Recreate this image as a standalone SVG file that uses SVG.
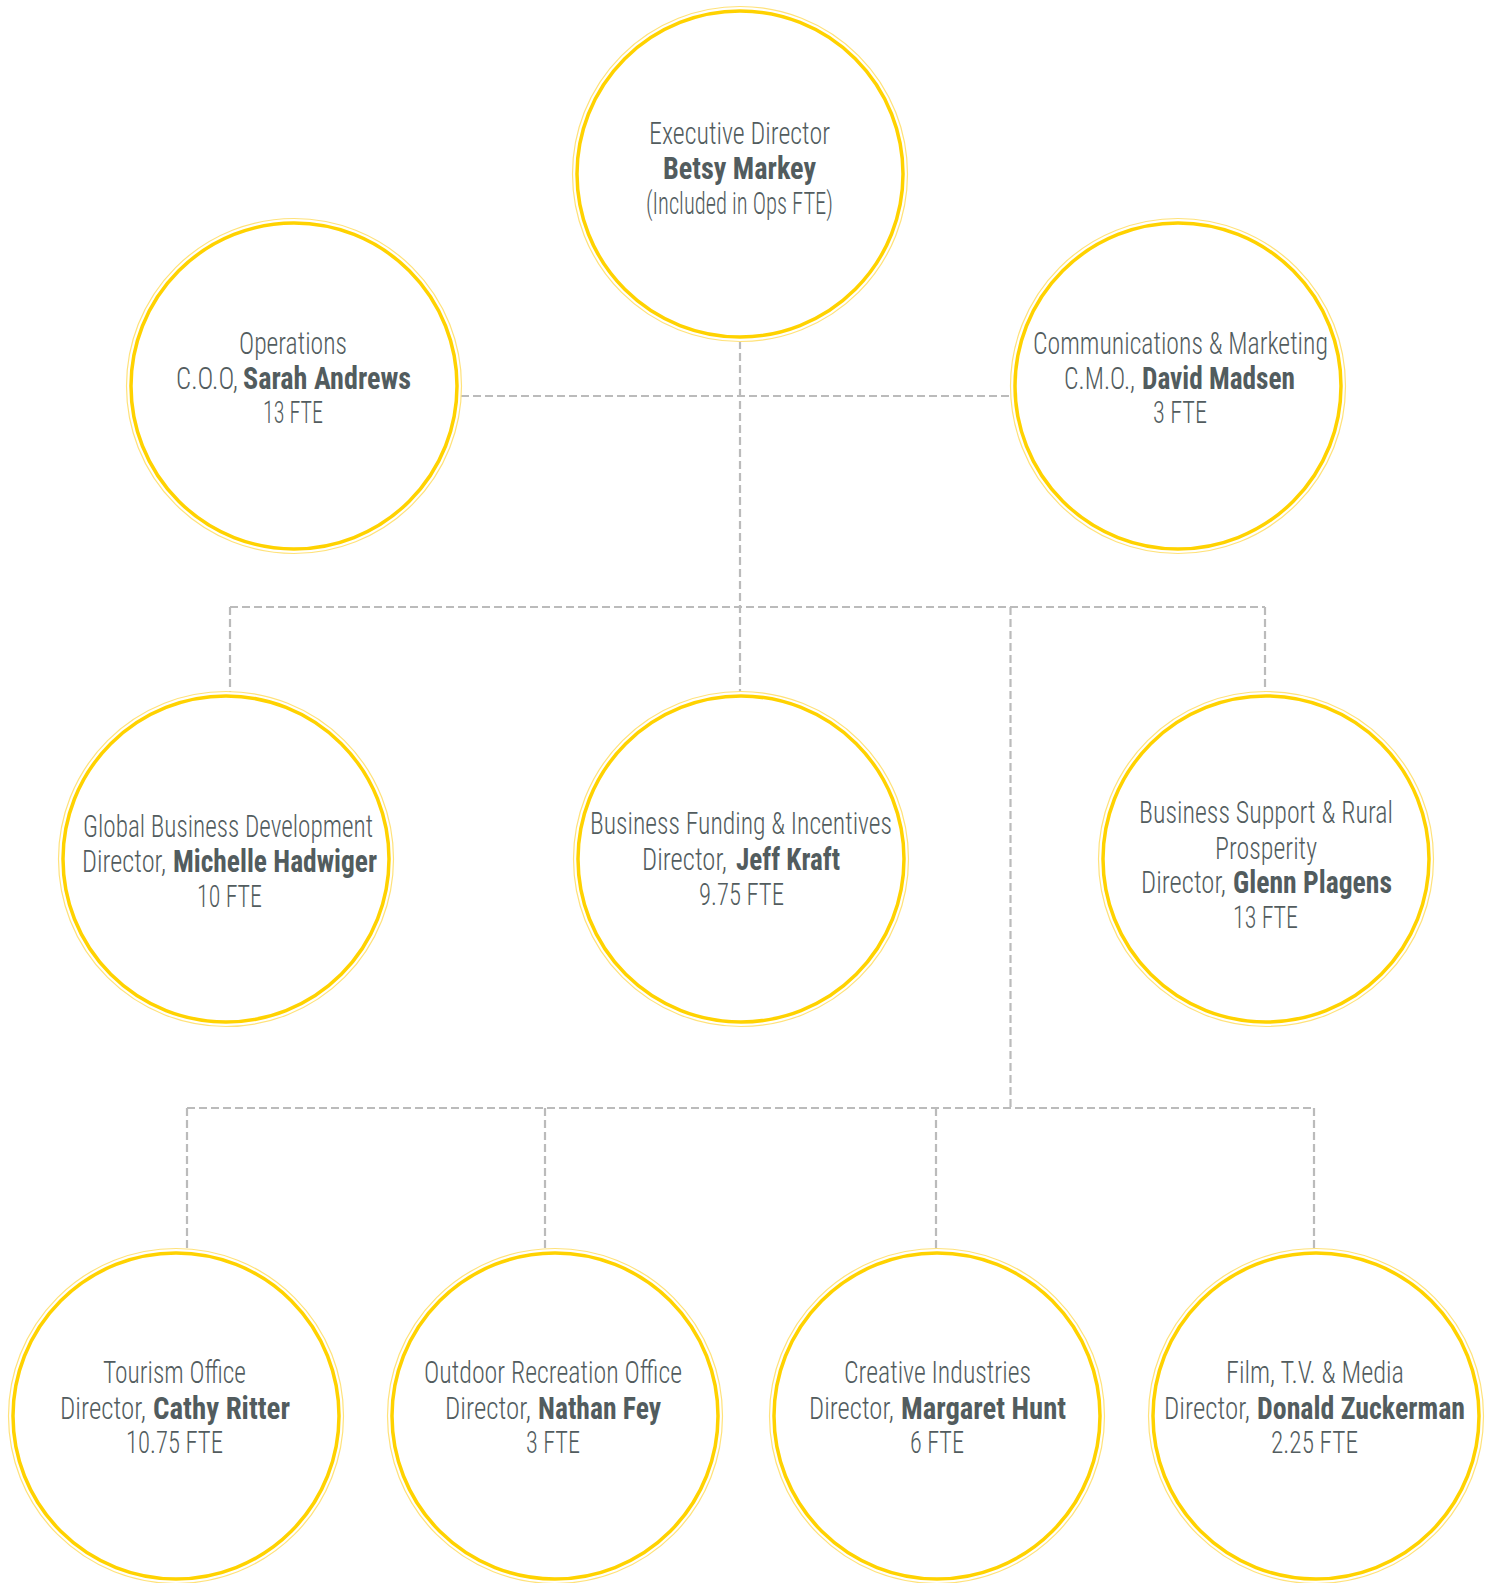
<svg xmlns="http://www.w3.org/2000/svg" width="1493" height="1583" viewBox="0 0 1493 1583">
<style>
.ring{fill:#ffffff;stroke:#FFD200;stroke-width:3.5}
.halo{fill:none;stroke:#FFE27A;stroke-width:1.2}
.t{font-family:Roboto,"Liberation Sans",sans-serif;font-weight:300;font-size:31px;font-stretch:75%;fill:#525c5e}
.b{font-weight:700}
.c{fill:none;stroke:#bbbbbb;stroke-width:2.2;stroke-dasharray:8 4}
</style>
<rect width="1493" height="1583" fill="#ffffff"/>
<g id="connectors">
<path class="c" d="M461 396H1011"/>
<path class="c" d="M740 341V692"/>
<path class="c" d="M230 607H1265"/>
<path class="c" d="M230 607V692"/>
<path class="c" d="M1265 607V692"/>
<path class="c" d="M1010.5 607V1108"/>
<path class="c" d="M187 1108H1314"/>
<path class="c" d="M187 1108V1249"/>
<path class="c" d="M545 1108V1249"/>
<path class="c" d="M936 1108V1249"/>
<path class="c" d="M1314 1108V1249"/>
</g>
<g id="node-executive">
<circle class="halo" cx="740" cy="174" r="167.5"/>
<circle class="ring" cx="740" cy="174" r="163"/>
<text class="t" x="649" y="144" textLength="181" lengthAdjust="spacingAndGlyphs">Executive Director</text>
<text class="t b" x="663" y="179" textLength="153" lengthAdjust="spacingAndGlyphs">Betsy Markey</text>
<text class="t" x="646" y="214" textLength="187" lengthAdjust="spacingAndGlyphs">(Included in Ops FTE)</text>
</g>
<g id="node-operations">
<circle class="halo" cx="294" cy="386" r="167.5"/>
<circle class="ring" cx="294" cy="386" r="163"/>
<text class="t" x="239" y="354" textLength="108" lengthAdjust="spacingAndGlyphs">Operations</text>
<text class="t" y="389"><tspan x="176" textLength="62" lengthAdjust="spacingAndGlyphs">C.O.O,</tspan><tspan class="b" x="243" textLength="168" lengthAdjust="spacingAndGlyphs">Sarah Andrews</tspan></text>
<text class="t" x="263" y="423" textLength="60" lengthAdjust="spacingAndGlyphs">13 FTE</text>
</g>
<g id="node-communications">
<circle class="halo" cx="1178" cy="386" r="167.5"/>
<circle class="ring" cx="1178" cy="386" r="163"/>
<text class="t" x="1033" y="354" textLength="295" lengthAdjust="spacingAndGlyphs">Communications &amp; Marketing</text>
<text class="t" y="389"><tspan x="1064" textLength="71" lengthAdjust="spacingAndGlyphs">C.M.O.,</tspan><tspan class="b" x="1142" textLength="153" lengthAdjust="spacingAndGlyphs">David Madsen</tspan></text>
<text class="t" x="1153" y="423" textLength="54" lengthAdjust="spacingAndGlyphs">3 FTE</text>
</g>
<g id="node-global">
<circle class="halo" cx="226" cy="859" r="167.5"/>
<circle class="ring" cx="226" cy="859" r="163"/>
<text class="t" x="83" y="837" textLength="290" lengthAdjust="spacingAndGlyphs">Global Business Development</text>
<text class="t" y="872"><tspan x="82" textLength="84" lengthAdjust="spacingAndGlyphs">Director,</tspan><tspan class="b" x="173" textLength="204" lengthAdjust="spacingAndGlyphs">Michelle Hadwiger</tspan></text>
<text class="t" x="197" y="907" textLength="65" lengthAdjust="spacingAndGlyphs">10 FTE</text>
</g>
<g id="node-funding">
<circle class="halo" cx="741" cy="859" r="167.5"/>
<circle class="ring" cx="741" cy="859" r="163"/>
<text class="t" x="590" y="834" textLength="302" lengthAdjust="spacingAndGlyphs">Business Funding &amp; Incentives</text>
<text class="t" y="870"><tspan x="642" textLength="85" lengthAdjust="spacingAndGlyphs">Director,</tspan><tspan class="b" x="736" textLength="104" lengthAdjust="spacingAndGlyphs">Jeff Kraft</tspan></text>
<text class="t" x="699" y="905" textLength="85" lengthAdjust="spacingAndGlyphs">9.75 FTE</text>
</g>
<g id="node-support">
<circle class="halo" cx="1266" cy="859" r="167.5"/>
<circle class="ring" cx="1266" cy="859" r="163"/>
<text class="t" x="1139" y="823" textLength="254" lengthAdjust="spacingAndGlyphs">Business Support &amp; Rural</text>
<text class="t" x="1215" y="859" textLength="102" lengthAdjust="spacingAndGlyphs">Prosperity</text>
<text class="t" y="893"><tspan x="1141" textLength="85" lengthAdjust="spacingAndGlyphs">Director,</tspan><tspan class="b" x="1233" textLength="159" lengthAdjust="spacingAndGlyphs">Glenn Plagens</tspan></text>
<text class="t" x="1233" y="928" textLength="65" lengthAdjust="spacingAndGlyphs">13 FTE</text>
</g>
<g id="node-tourism">
<circle class="halo" cx="176" cy="1416" r="167.5"/>
<circle class="ring" cx="176" cy="1416" r="163"/>
<text class="t" x="103" y="1383" textLength="143" lengthAdjust="spacingAndGlyphs">Tourism Office</text>
<text class="t" y="1419"><tspan x="60" textLength="86" lengthAdjust="spacingAndGlyphs">Director,</tspan><tspan class="b" x="153" textLength="137" lengthAdjust="spacingAndGlyphs">Cathy Ritter</tspan></text>
<text class="t" x="126" y="1453" textLength="97" lengthAdjust="spacingAndGlyphs">10.75 FTE</text>
</g>
<g id="node-outdoor">
<circle class="halo" cx="555" cy="1416" r="167.5"/>
<circle class="ring" cx="555" cy="1416" r="163"/>
<text class="t" x="424" y="1383" textLength="258" lengthAdjust="spacingAndGlyphs">Outdoor Recreation Office</text>
<text class="t" y="1419"><tspan x="445" textLength="86" lengthAdjust="spacingAndGlyphs">Director,</tspan><tspan class="b" x="538" textLength="123" lengthAdjust="spacingAndGlyphs">Nathan Fey</tspan></text>
<text class="t" x="526" y="1453" textLength="54" lengthAdjust="spacingAndGlyphs">3 FTE</text>
</g>
<g id="node-creative">
<circle class="halo" cx="937" cy="1416" r="167.5"/>
<circle class="ring" cx="937" cy="1416" r="163"/>
<text class="t" x="844" y="1383" textLength="187" lengthAdjust="spacingAndGlyphs">Creative Industries</text>
<text class="t" y="1419"><tspan x="809" textLength="85" lengthAdjust="spacingAndGlyphs">Director,</tspan><tspan class="b" x="901" textLength="165" lengthAdjust="spacingAndGlyphs">Margaret Hunt</tspan></text>
<text class="t" x="910" y="1453" textLength="54" lengthAdjust="spacingAndGlyphs">6 FTE</text>
</g>
<g id="node-film">
<circle class="halo" cx="1316" cy="1416" r="167.5"/>
<circle class="ring" cx="1316" cy="1416" r="163"/>
<text class="t" x="1226" y="1383" textLength="178" lengthAdjust="spacingAndGlyphs">Film, T.V. &amp; Media</text>
<text class="t" y="1419"><tspan x="1164" textLength="86" lengthAdjust="spacingAndGlyphs">Director,</tspan><tspan class="b" x="1257" textLength="208" lengthAdjust="spacingAndGlyphs">Donald Zuckerman</tspan></text>
<text class="t" x="1271" y="1453" textLength="87" lengthAdjust="spacingAndGlyphs">2.25 FTE</text>
</g>
</svg>
